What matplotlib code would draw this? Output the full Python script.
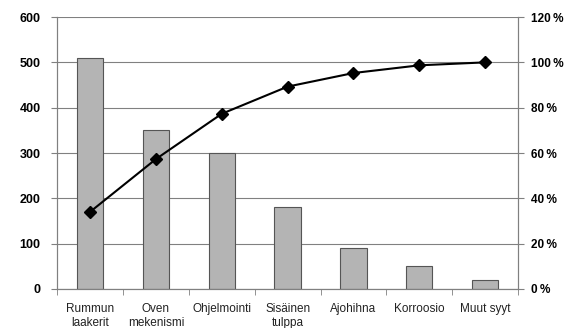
import numpy as np
import matplotlib.pyplot as plt

plt.rcParams['font.family'] = ['Liberation Sans', 'DejaVu Sans']

categories = ['Rummun\nlaakerit', 'Oven\nmekenismi', 'Ohjelmointi', 'Sisäinen\ntulppa',
              'Ajohihna', 'Korroosio', 'Muut syyt']
counts = [510, 350, 300, 180, 90, 50, 20]
cum_pct = [34.0, 57.3, 77.3, 89.3, 95.3, 98.7, 100.0]
left_ticks = [0, 100, 200, 300, 400, 500, 600]
right_ticks = [0, 20, 40, 60, 80, 100, 120]

fig = plt.figure(figsize=(5.65, 3.28), dpi=100)
ax = fig.add_axes([0.101, 0.119, 0.816, 0.829])
x = np.arange(len(categories))

ax.bar(x, counts, width=0.4, color='#b4b4b4', edgecolor='#555555', linewidth=0.8, zorder=2)
ax.set_xlim(-0.5, len(categories) - 0.5)
ax.set_ylim(0, 600)
ax.set_yticks(left_ticks)
ax.set_yticklabels([str(t) for t in left_ticks], fontweight='bold', fontsize=9)
ax.yaxis.grid(True, color='#808080', linewidth=0.8, zorder=0)
ax.set_axisbelow(True)

ax.set_xticks(x)
ax.set_xticklabels(categories, fontsize=8.5, color='#222222', linespacing=1.25)
ax.tick_params(axis='x', which='major', length=0, pad=10)
ax.set_xticks(np.arange(-0.5, len(categories)), minor=True)
ax.tick_params(axis='x', which='minor', length=4, color='#808080', direction='out')
ax.tick_params(axis='y', length=4, color='#808080', pad=8)
for s in ax.spines.values():
    s.set_color('#808080')
ax.spines['top'].set_visible(False)

ax2 = ax.twinx()
ax2.plot(x, cum_pct, color='black', linewidth=1.5, marker='D', markersize=6, zorder=3)
ax2.set_ylim(0, 120)
ax2.set_yticks(right_ticks)
ax2.set_yticklabels([f'{t}\u2009%' for t in right_ticks], fontweight='bold', fontsize=8.5)
ax2.tick_params(axis='y', length=4, color='#808080', pad=5)
for s in ax2.spines.values():
    s.set_color('#808080')
ax2.spines['top'].set_visible(False)

fig.savefig('out.png', dpi=100)
